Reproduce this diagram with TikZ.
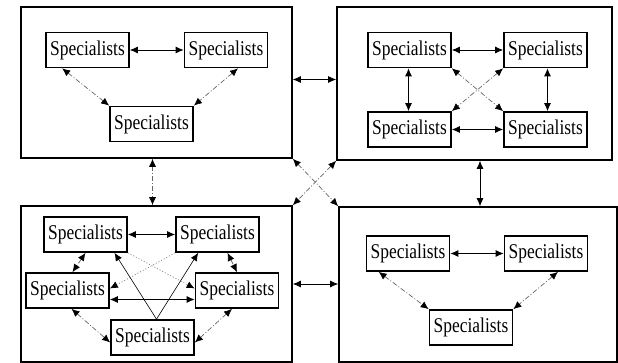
\documentclass[tikz,border=0pt]{standalone}
\usepackage{fontspec}
\newfontfamily\spfont[FakeStretch=0.83]{Liberation Serif}
\usetikzlibrary{arrows.meta}
\begin{document}
\begin{tikzpicture}[x=1pt,y=-1pt,
  spbox/.style={draw, line width=1.7pt, minimum width=83pt, minimum height=35pt, inner sep=0pt,
    font=\spfont\fontsize{21}{21}\selectfont, fill=white},
  bigbox/.style={draw, line width=1.6pt, inner sep=0pt},
  both/.style={{Latex[length=8pt,width=7pt,color=black]}-{Latex[length=8pt,width=7pt,color=black]}, line width=0.8pt},
  dashd/.style={both, draw=black!60, line width=0.7pt, dash pattern=on 5pt off 2pt on 1pt off 2pt},
  dots/.style={-{Latex[length=8pt,width=7pt,color=black]}, draw=black!50, line width=0.7pt, dash pattern=on 1pt off 2pt},
  single/.style={-{Latex[length=8pt,width=7pt,color=black]}, line width=0.6pt}
]
\useasboundingbox (0,0) rectangle (618,363);
\fill[white] (0,0) rectangle (618,363);

% big boxes
\node[bigbox, minimum width=271pt, minimum height=151pt] (TL) at (156.5,82.5) {};
\node[bigbox, minimum width=275pt, minimum height=153pt] (TR) at (474.5,83.5) {};
\node[bigbox, minimum width=271pt, minimum height=156pt] (BL) at (156.5,284) {};
\node[bigbox, minimum width=278pt, minimum height=155pt] (BR) at (478,284.5) {};

% top-left group
\node[spbox] (a1) at (87.5,50) {Specialists};
\node[spbox] (a2) at (226,50) {Specialists};
\node[spbox] (a3) at (151.5,124) {Specialists};
% top-right group
\node[spbox] (b1) at (409.5,50) {Specialists};
\node[spbox] (b2) at (545.5,50) {Specialists};
\node[spbox] (b3) at (409.5,129.5) {Specialists};
\node[spbox] (b4) at (545.5,129.5) {Specialists};
% bottom-left group
\node[spbox] (c1) at (85.5,234.5) {Specialists};
\node[spbox] (c2) at (217.5,234.5) {Specialists};
\node[spbox] (c3) at (67.5,290.5) {Specialists};
\node[spbox] (c4) at (237,290.5) {Specialists};
\node[spbox] (c5) at (152.5,337.5) {Specialists};
% bottom-right group
\node[spbox] (d1) at (408,253.5) {Specialists};
\node[spbox] (d2) at (546,253.5) {Specialists};
\node[spbox] (d3) at (471,327.5) {Specialists};

% connectors between groups
\draw[both] ([yshift=3pt]TL.east) -- ([yshift=3pt]TR.west |- TL.east);
\draw[both] (BL.east) -- (BR.west |- BL.east);
\draw[dashd] ([xshift=-4pt]TL.south) -- ([xshift=-4pt]TL.south |- BL.north);
\draw[both] ([xshift=2pt]BR.north |- TR.south) -- ([xshift=2pt]BR.north);
\draw[dashd] (TL.south east) -- (BR.north west);
\draw[dashd] (TR.south west) -- (BL.north east);

% top-left connectors
\draw[both] (a1.east) -- (a2.west);
\draw[dashd] ([xshift=17pt]a1.south west) -- (a3.north west);
\draw[dashd] ([xshift=12pt]a2.south) -- (a3.north east);

% top-right connectors
\draw[both] (b1.east) -- (b2.west);
\draw[both] (b3.east) -- (b4.west);
\draw[both] ([xshift=-1pt]b1.south) -- ([xshift=-1pt]b3.north);
\draw[both] ([xshift=2pt]b2.south) -- ([xshift=2pt]b4.north);
\draw[dashd] (b1.south east) -- (b4.north west);
\draw[dashd] (b2.south west) -- (b3.north east);

% bottom-left connectors
\draw[both] (c1.east) -- (c2.west);
\draw[dashd] (c1.south) -- ([xshift=5pt]c3.north);
\draw[dashd] ([xshift=10pt]c2.south) -- (c4.north);
\draw[both] ([yshift=-9pt]c3.east) -- ([yshift=-9pt]c4.west);
\draw[dots] (c1.south east) -- ([yshift=2pt]c4.west);
\draw[dots] (c2.south west) -- ([yshift=2pt]c3.east);
\draw[single] ([xshift=4pt]c5.north) -- ([xshift=29pt]c1.south);
\draw[single] ([xshift=4pt]c5.north) -- ([xshift=23pt]c2.south west);
\draw[dashd] ([xshift=4pt]c3.south) -- ([yshift=-5pt]c5.west);
\draw[dashd] ([xshift=-5pt]c4.south) -- ([yshift=-5pt]c5.east);

% bottom-right connectors
\draw[both] (d1.east) -- (d2.west);
\draw[dashd] ([xshift=13pt]d1.south west) -- (d3.north west);
\draw[dashd] ([xshift=12pt]d2.south) -- (d3.north east);
\end{tikzpicture}
\end{document}
